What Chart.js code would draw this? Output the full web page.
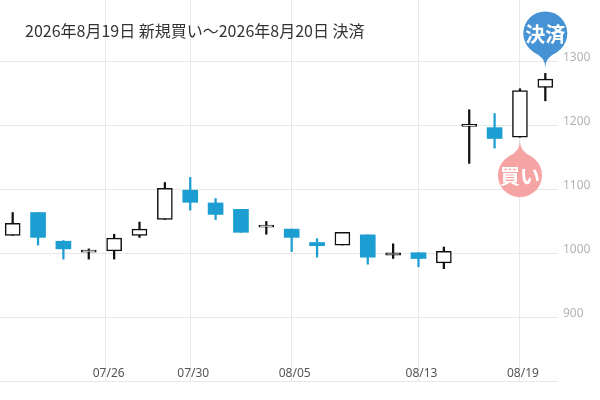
<!DOCTYPE html>
<html>
<head>
<meta charset="utf-8">
<script src="https://cdn.jsdelivr.net/npm/chart.js@4.4.1/dist/chart.umd.min.js"></script>
<style>
  body { margin: 0; background: #fff; }
  #wrap { position: relative; width: 600px; height: 400px; }
  #title {
    position: absolute; left: 25px; top: 22px;
    font: 16px/16px "Noto Sans CJK JP", sans-serif;
    color: #333; white-space: nowrap;
  }
</style>
</head>
<body>
<div id="wrap">
  <canvas id="candle-chart"></canvas>
  <div id="title">2026年8月19日 新規買い～2026年8月20日 決済</div>
</div>
<script>
var year = 2026;
var tradingDays = ['07/21', '07/22', '07/23', '07/24', '07/27', '07/28', '07/29', '07/30', '07/31', '08/03', '08/04',
                   '08/05', '08/06', '08/07', '08/10', '08/12', '08/13', '08/14', '08/17', '08/18', '08/19', '08/20'];
var openVals  = [1028, 1064, 1019, 1002, 1004, 1028, 1053, 1099, 1079, 1069, 1041, 1038, 1017, 1013, 1029, 997, 1001, 985, 1199, 1197, 1182, 1260];
var highVals  = [1064, 1064, 1020, 1007, 1030, 1049, 1111, 1119, 1086, 1069, 1050, 1038, 1023, 1033, 1029, 1015, 1001, 1010, 1225, 1219, 1258, 1282];
var lowVals   = [1028, 1013, 991, 991, 991, 1025, 1053, 1068, 1053, 1033, 1030, 1003, 994, 1013, 983, 992, 979, 976, 1141, 1165, 1182, 1239];
var closeVals = [1047, 1025, 1007, 1003, 1024, 1038, 1102, 1080, 1061, 1033, 1044, 1025, 1012, 1033, 994, 1001, 992, 1003, 1200, 1180, 1255, 1273];
var xTickLabels = ['07/26', '07/30', '08/05', '08/13', '08/19'];
var yTickValues = [800, 900, 1000, 1100, 1200, 1300];
var buyDay = '08/19';
var sellDay = '08/20';

var upColor = '#111';
var downColor = '#1c9ed2';

function dayNumber(label) {
    var p = label.split('/');
    return Date.UTC(year, +p[0] - 1, +p[1]) / 86400000;
}

// calendar date -> (fractional) position on the trading day axis
function dateToIndex(label) {
    var d = dayNumber(label);
    for (var i = 0; i < tradingDays.length - 1; i++) {
        var a = dayNumber(tradingDays[i]), b = dayNumber(tradingDays[i + 1]);
        if (d >= a && d <= b) return i + (d - a) / (b - a);
    }
    return tradingDays.length - 1;
}

var isUp = closeVals.map((c, i) => c >= openVals[i]);
var bodies = tradingDays.map((d, i) => ({x: i, y: [openVals[i], closeVals[i]]}));
var wicks = tradingDays.map((d, i) => ({x: i, y: [lowVals[i], highVals[i]]}));

function drawBalloon(ctx, tipX, tipY, dir, color, text) {
    // dir = 1: balloon below the tip, dir = -1: balloon above the tip
    var r = 22, cy = tipY + dir * 34;
    var t = -dir * Math.PI / 2, a = 0.55;
    ctx.save();
    ctx.fillStyle = color;
    ctx.beginPath();
    ctx.arc(tipX, cy, r, 0, Math.PI * 2);
    ctx.fill();
    var cx1 = tipX + Math.cos(t) * (r + 2), cy1 = cy + Math.sin(t) * (r + 2);
    ctx.beginPath();
    ctx.moveTo(tipX + r * Math.cos(t - a), cy + r * Math.sin(t - a));
    ctx.quadraticCurveTo(cx1, cy1, tipX, tipY);
    ctx.quadraticCurveTo(cx1, cy1, tipX + r * Math.cos(t + a), cy + r * Math.sin(t + a));
    ctx.closePath();
    ctx.fill();
    ctx.fillStyle = '#fff';
    ctx.font = 'bold 20px "Noto Sans CJK JP"';
    ctx.textAlign = 'center';
    ctx.textBaseline = 'middle';
    ctx.fillText(text, tipX, cy + 1);
    ctx.restore();
}

var balloonPlugin = {
    id: 'balloons',
    afterDatasetsDraw(chart) {
        var ctx = chart.ctx, xs = chart.scales.x, ys = chart.scales.y;
        var bi = tradingDays.indexOf(buyDay), si = tradingDays.indexOf(sellDay);
        drawBalloon(ctx, xs.getPixelForValue(bi), ys.getPixelForValue(lowVals[bi]) + 4, 1, '#f5a3a3', '買い');
        drawBalloon(ctx, xs.getPixelForValue(si), ys.getPixelForValue(highVals[si]) - 6, -1, '#4592d4', '決済');
    }
};

function noPadding(s) {
    s.paddingTop = 0; s.paddingBottom = 0; s.paddingLeft = 0; s.paddingRight = 0;
}

const ctx = document.getElementById('candle-chart').getContext('2d');
var myChart = new Chart(ctx, {
    type: 'bar',
    data: {
        datasets: [{
            label: 'body',
            data: bodies,
            grouped: false,
            barThickness: 15,
            minBarLength: 2,
            borderSkipped: false,
            backgroundColor: isUp.map(u => u ? '#fff' : downColor),
            borderColor: isUp.map(u => u ? upColor : downColor),
            borderWidth: isUp.map(u => u ? 1.5 : 0),
            order: 0
        }, {
            label: 'wick',
            data: wicks,
            grouped: false,
            barThickness: 1.6,
            borderWidth: 0,
            backgroundColor: isUp.map(u => u ? upColor : downColor),
            order: 1
        }]
    },
    options: {
        responsive: true,
        maintainAspectRatio: false,
        animation: false,
        layout: { padding: 0 },
        plugins: { legend: { display: false }, tooltip: { enabled: false } },
        scales: {
            x: {
                type: 'linear',
                min: -0.5,
                max: tradingDays.length - 0.5,
                offset: false,
                afterBuildTicks: s => { s.ticks = xTickLabels.map(l => ({value: dateToIndex(l)})); },
                afterFit: s => { s.height = 19; noPadding(s); },
                grid: { color: '#e8e8e8', drawTicks: false, offset: false },
                border: { display: false },
                ticks: {
                    autoSkip: false, maxRotation: 0, mirror: true, padding: 0, labelOffset: 3,
                    color: '#555', font: { family: 'Noto Sans', size: 12 },
                    callback: (v, i) => xTickLabels[i]
                }
            },
            y: {
                position: 'right',
                min: 800,
                max: 1397,
                afterBuildTicks: s => { s.ticks = yTickValues.map(v => ({value: v})); },
                afterFit: s => { s.width = 42; noPadding(s); },
                grid: { color: '#e8e8e8', drawTicks: false },
                border: { display: false },
                ticks: {
                    padding: 5, labelOffset: -4,
                    color: '#b3b3b3', font: { family: 'Noto Sans', size: 12 },
                    callback: v => v > 800 ? v : ''
                }
            }
        }
    },
    plugins: [balloonPlugin]
});
</script>
</body>
</html>
